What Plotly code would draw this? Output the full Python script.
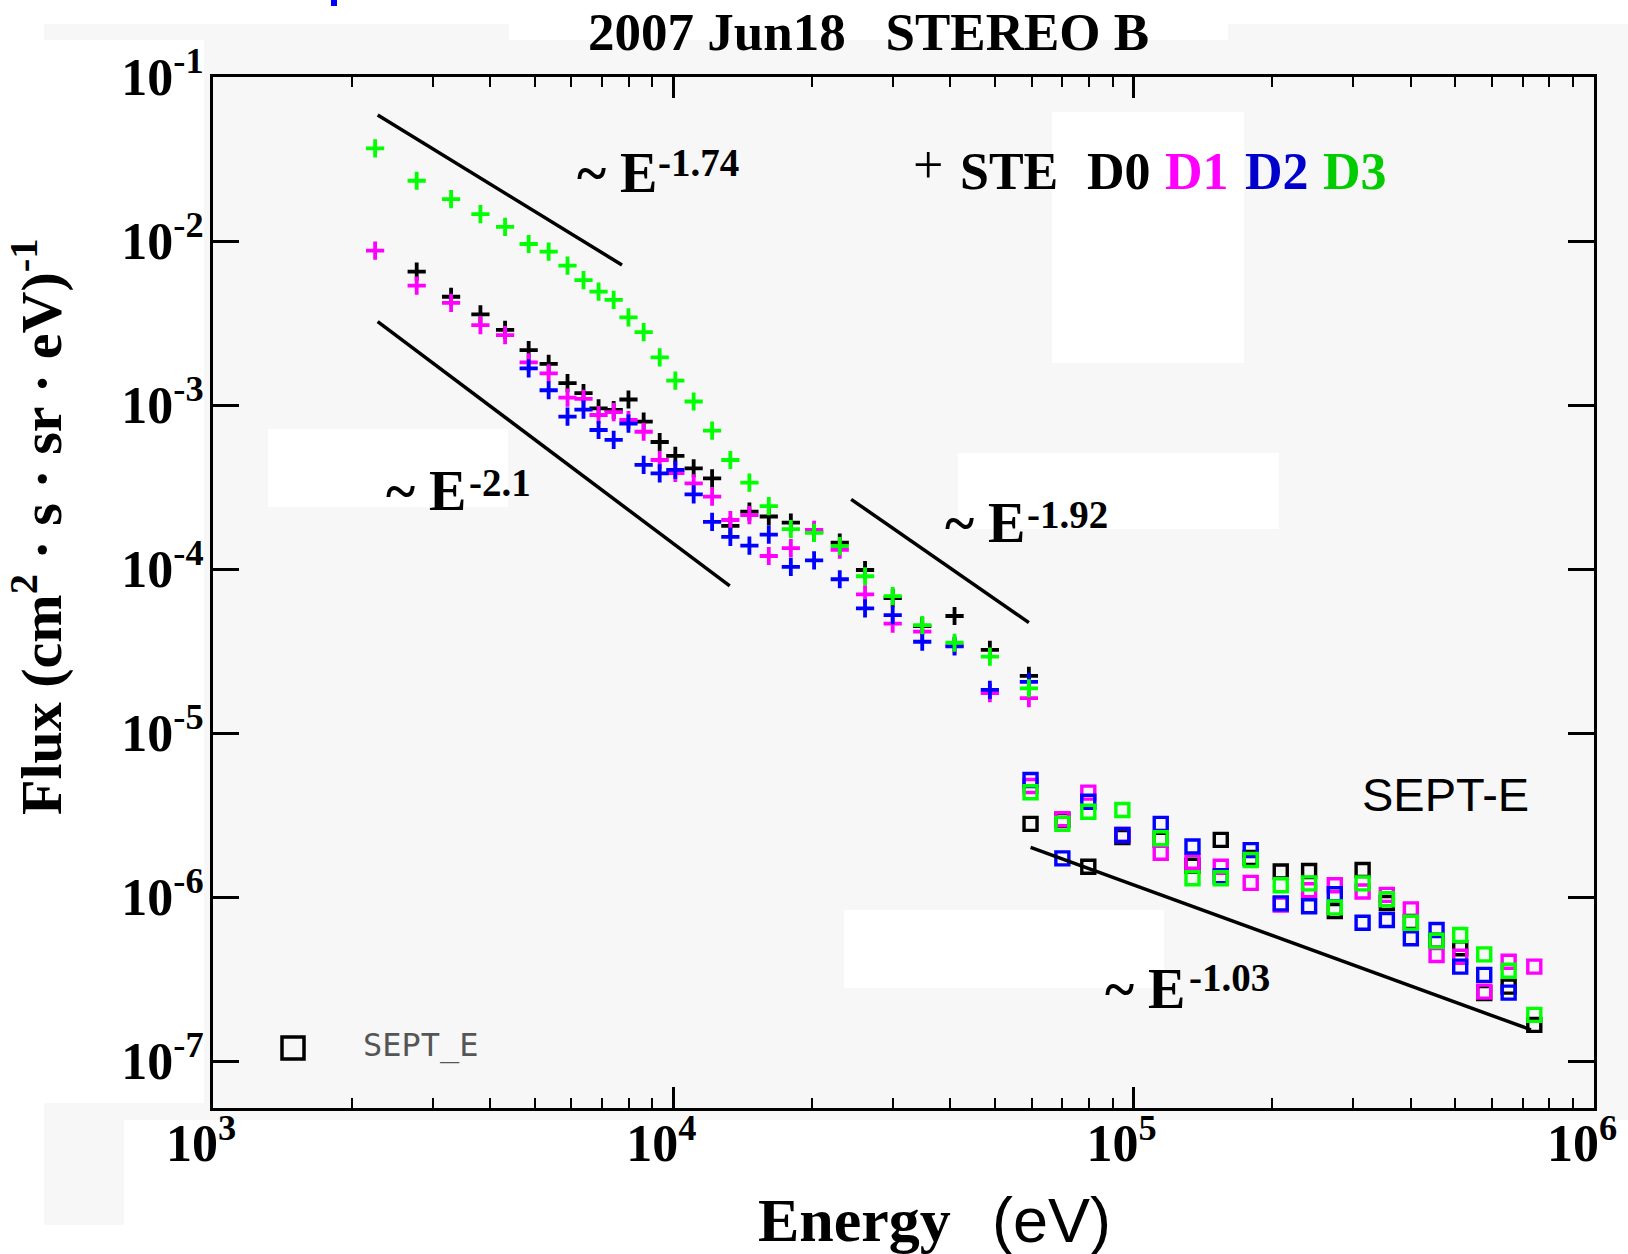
import plotly.graph_objects as go

# ---------------- data ----------------
# STE energies (eV)
ste_energy = [2250, 2770, 3290, 3810, 4310, 4850, 5360, 5890, 6380, 6880,
              7420, 7990, 8620, 9340, 10100, 11070, 12140, 13300, 14630, 16120,
              18000, 20220, 22990, 26090, 29960, 34730, 40820, 48710, 59210]
ste_d0 = [None, 6.50e-3, 4.57e-3, 3.57e-3, 2.87e-3, 2.16e-3, 1.78e-3, 1.36e-3, 1.18e-3, 9.55e-4,
          9.32e-4, 1.08e-3, 7.91e-4, 5.95e-4, 4.89e-4, 4.11e-4, 3.57e-4, 1.83e-4, 2.24e-4, 2.09e-4,
          1.92e-4, 1.68e-4, 1.45e-4, 9.86e-5, 6.65e-5, 4.49e-5, 5.17e-5, 3.21e-5, 2.23e-5]
ste_d1 = [8.73e-3, 5.34e-3, 4.20e-3, 3.07e-3, 2.67e-3, 1.82e-3, 1.56e-3, 1.11e-3, 1.09e-3, 8.69e-4,
          9.06e-4, 8.10e-4, 6.87e-4, 4.62e-4, 3.85e-4, 3.33e-4, 2.76e-4, 1.99e-4, 2.13e-4, 1.20e-4,
          1.34e-4, 1.73e-4, 1.31e-4, 7.01e-5, 4.64e-5, 4.15e-5, 3.41e-5, 1.75e-5, 1.63e-5]
ste_d2 = [None, None, None, None, None, 1.67e-3, 1.23e-3, 8.49e-4, 9.36e-4, 7.04e-4,
          6.12e-4, 7.69e-4, 4.31e-4, 3.83e-4, 4.02e-4, 2.85e-4, 1.94e-4, 1.57e-4, 1.39e-4, 1.62e-4,
          1.03e-4, 1.13e-4, 8.66e-5, 5.76e-5, 5.24e-5, 3.60e-5, 3.37e-5, 1.83e-5, 2.05e-5]
ste_d3 = [3.67e-2, 2.33e-2, 1.80e-2, 1.46e-2, 1.22e-2, 9.59e-3, 8.61e-3, 7.07e-3, 5.78e-3, 4.91e-3,
          4.37e-3, 3.42e-3, 2.78e-3, 1.95e-3, 1.41e-3, 1.05e-3, 6.97e-4, 4.62e-4, 3.36e-4, 2.42e-4,
          1.75e-4, 1.66e-4, 1.38e-4, 9.03e-5, 6.84e-5, 4.55e-5, 3.55e-5, 2.92e-5, 1.87e-5]

# SEPT-E energies (eV)
sept_energy = [59700, 70000, 79700, 94500, 114500, 134200, 154600, 179600, 208700, 240500,
               273500, 314300, 354800, 400100, 455000, 512100, 577500, 652500, 741800]
sept_d0 = [2.79e-6, 2.95e-6, 1.53e-6, 2.32e-6, 2.23e-6, 1.55e-6, 2.23e-6, 1.73e-6, 1.43e-6, 1.44e-6,
           8.22e-7, 1.46e-6, 9.20e-7, 7.04e-7, 5.41e-7, 4.87e-7, 2.60e-7, 2.84e-7, 1.66e-7]
sept_d1 = [4.75e-6, 2.98e-6, 4.33e-6, 2.39e-6, 1.86e-6, 1.64e-6, 1.53e-6, 1.22e-6, 9.00e-7, 1.10e-6,
           1.18e-6, 1.08e-6, 1.03e-6, 8.41e-7, 4.43e-7, 4.32e-7, 2.65e-7, 4.03e-7, 3.76e-7]
sept_d2 = [5.17e-6, 1.72e-6, 3.81e-6, 2.39e-6, 2.79e-6, 2.03e-6, 1.34e-6, 1.93e-6, 9.15e-7, 8.78e-7,
           1.04e-6, 6.97e-7, 7.24e-7, 5.60e-7, 6.29e-7, 3.76e-7, 3.35e-7, 2.61e-7, None]
sept_d3 = [4.35e-6, 2.79e-6, 3.31e-6, 3.39e-6, 2.28e-6, 1.30e-6, 1.30e-6, 1.68e-6, 1.18e-6, 1.21e-6,
           8.65e-7, 1.21e-6, 9.68e-7, 6.97e-7, 5.41e-7, 5.87e-7, 4.47e-7, 3.55e-7, 1.91e-7]

# power-law guide lines (end points)
fit174_energy = [2279, 7735]
fit174_flux = [5.87e-2, 7.14e-3]
fit21_energy = [2279, 13260]
fit21_flux = [3.22e-3, 7.88e-5]
fit192_energy = [24340, 59210]
fit192_flux = [2.66e-4, 4.71e-5]
fit103_energy = [59720, 729400]
fit103_flux = [2.01e-6, 1.55e-7]

x_tick_vals = [1e3, 1e4, 1e5, 1e6]
x_tick_text = ["10<sup>3</sup>", "10<sup>4</sup>", "10<sup>5</sup>", "10<sup>6</sup>"]
y_tick_vals = [1e-1, 1e-2, 1e-3, 1e-4, 1e-5, 1e-6, 1e-7]
y_tick_text = ["10<sup>-1</sup>", "10<sup>-2</sup>", "10<sup>-3</sup>", "10<sup>-4</sup>",
               "10<sup>-5</sup>", "10<sup>-6</sup>", "10<sup>-7</sup>"]

channel_colors = ["#000000", "#ff00ff", "#0000ff", "#00ff00"]

# ---------------- layout geometry ----------------
W, H = 1628, 1254
L, R, T, B = 213, 1594, 77, 1108


def px(x):
    return (x - L) / (R - L)


def py(y):
    return (B - y) / (B - T)


SERIF = "Liberation Serif"
SANS = "Liberation Sans"

fig = go.Figure()

for flux, col in zip([ste_d0, ste_d1, ste_d2, ste_d3], channel_colors):
    fig.add_trace(go.Scatter(
        x=ste_energy, y=flux, mode="markers",
        marker=dict(symbol="cross-thin", size=13, color=col,
                    line=dict(color=col, width=3.8)),
        showlegend=False, hoverinfo="x+y"))

for flux, col in zip([sept_d0, sept_d1, sept_d2, sept_d3], channel_colors):
    fig.add_trace(go.Scatter(
        x=sept_energy, y=flux, mode="markers",
        marker=dict(symbol="square-open", size=13, color=col,
                    line=dict(color=col, width=3.4)),
        showlegend=False, hoverinfo="x+y"))

for ex, fy in [(fit174_energy, fit174_flux), (fit21_energy, fit21_flux),
               (fit192_energy, fit192_flux), (fit103_energy, fit103_flux)]:
    fig.add_trace(go.Scatter(x=ex, y=fy, mode="lines",
                             line=dict(color="black", width=3.5),
                             showlegend=False, hoverinfo="skip"))

# ---------------- background patches ----------------
shapes = []


def rect(x0, y0, x1, y1, fill, layer="below"):
    return dict(type="rect", xref="paper", yref="paper",
                x0=px(x0), x1=px(x1), y0=py(y1), y1=py(y0),
                fillcolor=fill, layer=layer, line=dict(width=0, color=fill))


GRAY = "#f7f7f7"
shapes += [
    rect(44, 24, 509, 40, GRAY),
    rect(1228, 24, 1628, 40, GRAY),
    rect(204, 40, 1628, 1120, GRAY),
    rect(44, 1103, 204, 1120, GRAY),
    rect(44, 1120, 124, 1225, GRAY),
    rect(268, 429, 508, 507, "white"),
    rect(1052, 112, 1244, 363, "white"),
    rect(958, 453, 1279, 529, "white"),
    rect(844, 910, 1164, 988, "white"),
    rect(331, 0, 337, 6, "#0000ff", layer="above"),
]
# legend key square for SEPT_E
shapes.append(dict(type="rect", xref="paper", yref="paper",
                   x0=px(282), x1=px(304), y0=py(1059), y1=py(1037),
                   fillcolor="rgba(0,0,0,0)", layer="above",
                   line=dict(width=3.5, color="black")))


def ann(text, x, y, size, family=SERIF, color="black", bold=True,
        xanchor="left", yanchor="middle", angle=0):
    return dict(text=text, x=px(x), y=py(y), xref="paper", yref="paper",
                showarrow=False, xanchor=xanchor, yanchor=yanchor,
                borderpad=0, borderwidth=0, textangle=angle,
                font=dict(family=family, size=size, color=color,
                          weight="bold" if bold else "normal"))


annotations = [
    ann("2007 Jun18\u00a0\u00a0\u00a0STEREO B", 868, 32, 53, xanchor="center"),
    ann("+", 927.5, 165, 54, bold=False, xanchor="center"),
    ann("STE", 960, 171.4, 52),
    ann("D0", 1087, 171.4, 52, color="#000000"),
    ann("D1", 1165, 171.4, 52, color="#ff00ff"),
    ann("D2", 1245, 171.4, 52, color="#0000cc"),
    ann("D3", 1323, 171.4, 52, color="#00cc00"),
    ann("~ E", 577, 173, 56), ann("-1.74", 658, 162.5, 39),
    ann("~ E", 385.5, 491, 56), ann("-2.1", 468.6, 482.5, 39),
    ann("~ E", 945, 523, 56), ann("-1.92", 1027, 514.5, 39),
    ann("~ E", 1105, 989, 56), ann("-1.03", 1189, 977.5, 39),
    ann("SEPT-E", 1362, 794, 47, family=SANS, bold=False),
    ann("SEPT_E", 363, 1045, 32, family="DejaVu Sans Mono", color="#555555", bold=False),
    ann("Energy", 758, 1220, 62),
    ann("(eV)", 992, 1219.5, 63, family=SANS, bold=False),
    ann("Flux (cm<sup>2</sup> \u00b7 s \u00b7 sr \u00b7 eV)<sup>-1</sup>", 37, 527, 58,
        xanchor="center", angle=-90),
]

minor_x = [m * 10 ** e for e in (3, 4, 5) for m in range(2, 10)]

fig.update_layout(
    width=W, height=H,
    margin=dict(l=L, r=W - R, t=T, b=H - B, pad=0),
    paper_bgcolor="white", plot_bgcolor=GRAY,
    shapes=shapes, annotations=annotations,
    xaxis=dict(type="log", range=[3, 6], showgrid=False, zeroline=False,
               tickmode="array", tickvals=x_tick_vals, ticktext=x_tick_text,
               ticks="inside", ticklen=21, tickwidth=2.5, tickcolor="black",
               showline=True, linewidth=3, linecolor="black", mirror="allticks",
               ticklabelstandoff=-12, ticklabelshift=-12, ticklabeloverflow="allow",
               tickfont=dict(family=SERIF, size=52, color="black", weight="bold"),
               minor=dict(tickmode="array", tickvals=minor_x, ticks="inside",
                          ticklen=10, tickwidth=2, tickcolor="black", showgrid=False)),
    yaxis=dict(type="log", range=[-7.2866, -1.0], showgrid=False, zeroline=False,
               tickmode="array", tickvals=y_tick_vals, ticktext=y_tick_text,
               ticks="inside", ticklen=26, tickwidth=3, tickcolor="black",
               showline=True, linewidth=3, linecolor="black", mirror="allticks",
               ticklabelstandoff=-4, ticklabeloverflow="allow",
               tickfont=dict(family=SERIF, size=52, color="black", weight="bold")),
)

fig.write_html("out.html")
